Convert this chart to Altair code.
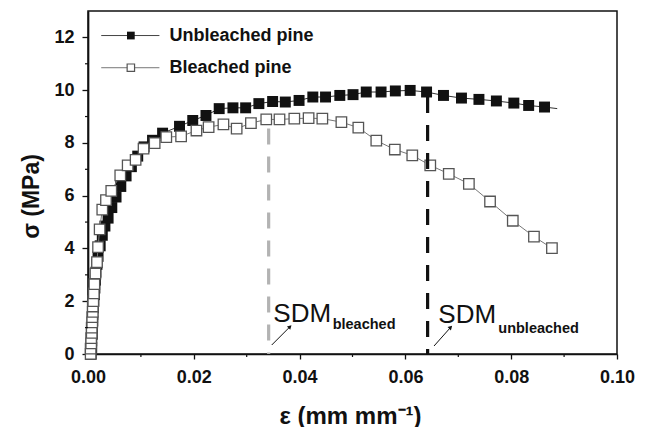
import altair as alt
import pandas as pd

FONT = "Liberation Sans"

# ---- data ----
unb_x = [0.0006, 0.0007, 0.0007, 0.0008, 0.0008, 0.0009, 0.0009, 0.0010, 0.0011, 0.0012,
         0.0013, 0.0014, 0.0015, 0.0017, 0.0019, 0.0023, 0.0027, 0.0032, 0.0038, 0.0045,
         0.0053, 0.0062, 0.0072, 0.0082, 0.0094, 0.0106, 0.0122, 0.0141, 0.0173, 0.0198,
         0.0223, 0.0248, 0.0274, 0.0298, 0.0323, 0.0349, 0.0373, 0.0399, 0.0425, 0.0449,
         0.0476, 0.0501, 0.0526, 0.0554, 0.0581, 0.0609, 0.0640, 0.0672, 0.0706, 0.0739,
         0.0772, 0.0805, 0.0833, 0.0863]
unb_y = [0.0, 0.25, 0.5, 0.75, 1.0, 1.25, 1.5, 1.75, 2.0, 2.25,
         2.5, 2.8, 3.1, 3.4, 3.7, 4.1, 4.5, 4.85, 5.15, 5.55,
         5.95, 6.35, 6.75, 7.1, 7.5, 7.85, 8.1, 8.37, 8.63, 8.85,
         9.04, 9.30, 9.33, 9.33, 9.49, 9.57, 9.55, 9.61, 9.74, 9.74,
         9.80, 9.83, 9.93, 9.93, 9.97, 9.99, 9.93, 9.80, 9.70, 9.65,
         9.59, 9.51, 9.42, 9.36]
unb_line_end_x = [0.0887]
unb_line_end_y = [9.30]

ble_x = [0.0005, 0.0005, 0.0006, 0.0006, 0.0007, 0.0007, 0.0008, 0.0008, 0.0009, 0.0009,
         0.0010, 0.0011, 0.0012, 0.0014, 0.0017, 0.0019, 0.0022, 0.0027, 0.0034, 0.0044,
         0.0061, 0.0075, 0.0090, 0.0105, 0.0126, 0.0148, 0.0176, 0.0205, 0.0228, 0.0256,
         0.0281, 0.0308, 0.0337, 0.0362, 0.0390, 0.0417, 0.0443, 0.0479, 0.0511, 0.0545,
         0.0580, 0.0613, 0.0647, 0.0682, 0.0720, 0.0760, 0.0803, 0.0843, 0.0877]
ble_y = [0.0, 0.2, 0.4, 0.6, 0.8, 1.0, 1.2, 1.4, 1.6, 1.8,
         2.0, 2.3, 2.65, 3.05, 3.48, 4.05, 4.72, 5.47, 5.83, 6.18,
         6.77, 7.15, 7.36, 7.78, 7.99, 8.22, 8.25, 8.47, 8.60, 8.70,
         8.54, 8.75, 8.89, 8.89, 8.92, 8.94, 8.92, 8.79, 8.58, 8.09,
         7.75, 7.53, 7.15, 6.83, 6.45, 5.78, 5.05, 4.45, 4.01]

sdm_x = [0.03415, 0.0642]
sdm_top = [8.55, 9.74]
sdm_color = ["#b3b3b3", "#111111"]

x_ticks = [0.0, 0.02, 0.04, 0.06, 0.08, 0.10]
x_minor = [0.01, 0.03, 0.05, 0.07, 0.09]
y_ticks = [0, 2, 4, 6, 8, 10, 12]
y_minor = [1, 3, 5, 7, 9, 11]

# annotation anchors (data units)
sdm_label = ["SDM", "SDM"]
sdm_label_x = [0.03503, 0.06622]
sdm_label_y = [1.22, 1.19]
sub_label = ["bleached", "unbleached"]
sub_label_x = [0.04625, 0.07756]
sub_label_y = [0.935, 0.785]
arrow_x = [0.03473, 0.06541]
arrow_y = [0.341, 0.303]
arrow_x2 = [0.03819, 0.06856]
arrow_y2 = [1.035, 1.012]

legend_names = ["Unbleached pine", "Bleached pine"]
legend_y = [12.07, 10.85]
legend_line_x = [0.0025, 0.0135]
legend_sym_x = [0.0081]
legend_text_x = [0.0154]

# ---- tables ----
unb = pd.DataFrame({"x": unb_x, "y": unb_y})
unb["i"] = range(len(unb))
unb_line = pd.concat([unb, pd.DataFrame({"x": unb_line_end_x, "y": unb_line_end_y, "i": [len(unb)]})])
ble = pd.DataFrame({"x": ble_x, "y": ble_y})
ble["i"] = range(len(ble))
sdm = pd.DataFrame({"x": sdm_x, "top": sdm_top, "bottom": [0, 0], "c": sdm_color})
lab = pd.DataFrame({"x": sdm_label_x, "y": sdm_label_y, "t": sdm_label})
sub = pd.DataFrame({"x": sub_label_x, "y": sub_label_y, "t": sub_label})
arr = pd.DataFrame({"x": arrow_x, "y": arrow_y, "x2": arrow_x2, "y2": arrow_y2})
leg = pd.DataFrame({"name": legend_names, "y": legend_y,
                    "x1": [legend_line_x[0]] * 2, "x2": [legend_line_x[1]] * 2,
                    "xs": legend_sym_x * 2, "xt": legend_text_x * 2})

xs = alt.Scale(domain=[0, 0.1], nice=False, zero=False)
ys = alt.Scale(domain=[0, 13], nice=False)

X = alt.X("x:Q", scale=xs,
          axis=alt.Axis(values=x_ticks, format=".2f", title="ε (mm mm⁻¹)",
                        titleX=262, titleY=69, titleBaseline="alphabetic",
                        titleFontSize=24, titleFontWeight="bold",
                        labelPadding=9, tickSize=5, labelFlush=False))
Y = alt.Y("y:Q", scale=ys,
          axis=alt.Axis(values=y_ticks, format="d", title="σ (MPa)",
                        titleX=-50, titleY=185, titleAngle=-90, titleAlign="center",
                        titleBaseline="alphabetic",
                        titleFontSize=23, titleFontWeight="bold",
                        labelPadding=8, tickSize=6, labelFlush=False))

unb_line_l = alt.Chart(unb_line).mark_line(color="#333333", strokeWidth=1).encode(
    x=X, y=Y, order="i:Q")
unb_pts = alt.Chart(unb).mark_point(shape="square", filled=True, size=120,
                                     color="#111111", opacity=1).encode(
    x=alt.X("x:Q", scale=xs), y=alt.Y("y:Q", scale=ys))
ble_line_l = alt.Chart(ble).mark_line(color="#777777", strokeWidth=1).encode(
    x=alt.X("x:Q", scale=xs), y=alt.Y("y:Q", scale=ys), order="i:Q")
ble_pts = alt.Chart(ble).mark_point(shape="square", filled=True, fill="white",
                                     stroke="#555555", strokeWidth=1.3, size=110,
                                     opacity=1).encode(
    x=alt.X("x:Q", scale=xs), y=alt.Y("y:Q", scale=ys))

sdm_lines = alt.Chart(sdm).mark_rule(strokeWidth=3.2, strokeDash=[16, 12]).encode(
    x=alt.X("x:Q", scale=xs), y=alt.Y("top:Q", scale=ys), y2="bottom:Q",
    color=alt.Color("c:N", scale=None))

sdm_text = alt.Chart(lab).mark_text(align="left", baseline="alphabetic", font=FONT,
                                    fontSize=26, color="#111111").encode(
    x=alt.X("x:Q", scale=xs), y=alt.Y("y:Q", scale=ys), text="t:N")
sub_text = alt.Chart(sub).mark_text(align="left", baseline="alphabetic", font=FONT,
                                    fontSize=14.5, fontWeight="bold", color="#111111").encode(
    x=alt.X("x:Q", scale=xs), y=alt.Y("y:Q", scale=ys), text="t:N")
arrow_shaft = alt.Chart(arr).mark_rule(color="#111111", strokeWidth=1).encode(
    x=alt.X("x:Q", scale=xs), y=alt.Y("y:Q", scale=ys), x2="x2:Q", y2="y2:Q")
arrow_head = alt.Chart(arr).mark_point(shape="triangle-up", filled=True, size=22,
                                        angle=45, color="#111111", opacity=1).encode(
    x=alt.X("x2:Q", scale=xs), y=alt.Y("y2:Q", scale=ys))

leg_lines = alt.Chart(leg).mark_rule(strokeWidth=1).encode(
    x=alt.X("x1:Q", scale=xs), x2="x2:Q", y=alt.Y("y:Q", scale=ys),
    color=alt.Color("name:N", scale=alt.Scale(domain=legend_names, range=["#444444", "#777777"]),
                    legend=None))
leg_sym_u = alt.Chart(leg.iloc[[0]]).mark_point(shape="square", filled=True, size=60,
                                               color="#111111", opacity=1).encode(
    x=alt.X("xs:Q", scale=xs), y=alt.Y("y:Q", scale=ys))
leg_sym_b = alt.Chart(leg.iloc[[1]]).mark_point(shape="square", filled=True, fill="white",
                                               stroke="#555555", strokeWidth=1.2, size=55,
                                               opacity=1).encode(
    x=alt.X("xs:Q", scale=xs), y=alt.Y("y:Q", scale=ys))
leg_text = alt.Chart(leg).mark_text(align="left", baseline="middle", font=FONT,
                                    fontSize=18, fontWeight="bold", color="#111111").encode(
    x=alt.X("xt:Q", scale=xs), y=alt.Y("y:Q", scale=ys), text="name:N")

minor_y = alt.Chart(pd.DataFrame({"y": y_minor})).mark_rule(color="#111111", strokeWidth=1.2).encode(
    y=alt.Y("y:Q", scale=ys), x=alt.value(-3), x2=alt.value(0))
minor_x = alt.Chart(pd.DataFrame({"x": x_minor})).mark_rule(color="#111111", strokeWidth=1.2).encode(
    x=alt.X("x:Q", scale=xs), y=alt.value(343), y2=alt.value(346))

chart = alt.layer(
    unb_line_l, unb_pts, ble_line_l, ble_pts, sdm_lines,
    arrow_shaft, arrow_head, sdm_text, sub_text,
    leg_lines, leg_sym_u, leg_sym_b, leg_text, minor_y, minor_x
).properties(
    width=529, height=343,
    padding={"left": 88, "top": 11, "right": 29, "bottom": 73},
    autosize=alt.AutoSizeParams(type="none"),
    background="white",
).configure_view(
    stroke="#111111", strokeWidth=1.5
).configure_axis(
    grid=False, domainColor="#111111", domainWidth=1.7,
    tickColor="#111111", tickWidth=1.3,
    labelFont=FONT, labelFontSize=18, labelFontWeight="bold", labelColor="#111111",
    titleFont=FONT, titleColor="#111111",
)

chart.save("out.html", embed_options={"renderer": "svg", "actions": False})
